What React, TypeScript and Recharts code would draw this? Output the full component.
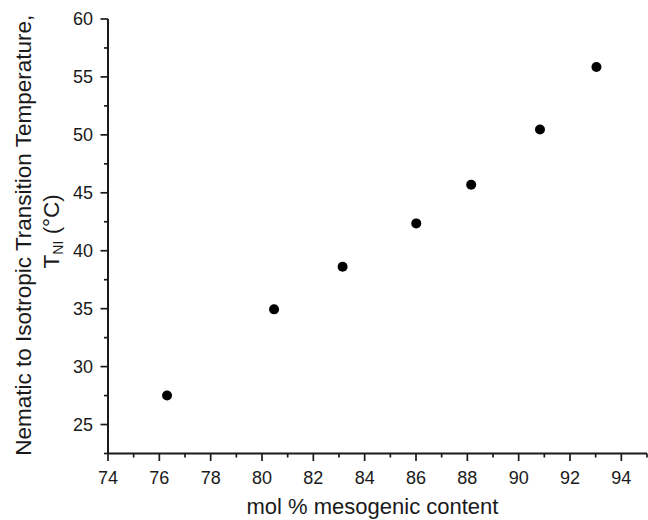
import { ScatterChart, Scatter, XAxis, YAxis, Label } from 'recharts';

// mesogen content (mol %) vs. nematic-isotropic transition temperature
const molPercent = [76.3, 80.47, 83.14, 86.01, 88.15, 90.83, 93.03];
const tniCelsius = [27.5, 34.94, 38.62, 42.36, 45.7, 50.47, 55.86];

const xTicks = [74, 75, 76, 77, 78, 79, 80, 81, 82, 83, 84, 85, 86, 87, 88, 89, 90, 91, 92, 93, 94, 95];
const xLabels = [74, 76, 78, 80, 82, 84, 86, 88, 90, 92, 94];
const yTicks = [22.5, 25, 27.5, 30, 32.5, 35, 37.5, 40, 42.5, 45, 47.5, 50, 52.5, 55, 57.5, 60];
const yLabels = [25, 30, 35, 40, 45, 50, 55, 60];

const points = molPercent.map((x, i) => ({ x, y: tniCelsius[i] }));

const FONT = '"Liberation Sans", Arial, sans-serif';
const INK = '#1a1a1a';

const XTick = (props: any) => {
  const { x, y, payload } = props;
  const major = xLabels.includes(payload.value);
  return (
    <g>
      <line x1={x} x2={x} y1={y} y2={y + (major ? 7.5 : 4)} stroke={INK} strokeWidth={1.7} />
      {major && (
        <text x={x} y={y + 30} textAnchor="middle" fontSize={18} fontFamily={FONT} fill={INK}>
          {payload.value}
        </text>
      )}
    </g>
  );
};

const YTick = (props: any) => {
  const { x, y, payload } = props;
  const major = yLabels.includes(payload.value);
  return (
    <g>
      <line x1={x} x2={x - (major ? 7.5 : 4)} y1={y} y2={y} stroke={INK} strokeWidth={1.7} />
      {major && (
        <text x={x - 15} y={y} dy="0.36em" textAnchor="end" fontSize={18} fontFamily={FONT} fill={INK}>
          {payload.value}
        </text>
      )}
    </g>
  );
};

const YTitle = (props: any) => {
  const vb = props.viewBox;
  const cy = vb.y + vb.height / 2;
  return (
    <g fontFamily={FONT} fontSize={22.5} fill={INK}>
      <text x={31} y={cy - 1} transform={`rotate(-90, 31, ${cy - 1})`} textAnchor="middle">
        Nematic to Isotropic Transition Temperature,
      </text>
      <text x={59} y={cy - 5} transform={`rotate(-90, 59, ${cy - 5})`} textAnchor="middle">
        T
        <tspan fontSize={14} dy={4}>NI</tspan>
        <tspan dy={-4}> (°C)</tspan>
      </text>
    </g>
  );
};

const Dot = (props: any) => <circle cx={props.cx} cy={props.cy} r={5} fill="#000" />;

export default function App() {
  return (
    <div style={{ position: 'absolute', left: 0, top: 0, width: 648, height: 520, background: '#fff' }}>
      <ScatterChart width={648} height={520} margin={{ top: 19, right: 1, bottom: 0, left: 0 }}>
        <XAxis
          type="number"
          dataKey="x"
          domain={[74, 95]}
          ticks={xTicks}
          interval={0}
          tickSize={0}
          tickMargin={0}
          tickLine={false}
          tick={XTick}
          height={66.5}
          axisLine={{ stroke: INK, strokeWidth: 2 }}
        >
          <Label
            value="mol % mesogenic content"
            position="insideBottom"
            offset={6}
            style={{ fontSize: 22, fontFamily: FONT, fill: INK }}
            dx={-5}
          />
        </XAxis>
        <YAxis
          type="number"
          dataKey="y"
          domain={[22.5, 60]}
          ticks={yTicks}
          interval={0}
          tickSize={0}
          tickMargin={0}
          tickLine={false}
          tick={YTick}
          width={108}
          axisLine={{ stroke: INK, strokeWidth: 2 }}
        >
          <Label content={YTitle} />
        </YAxis>
        <Scatter data={points} shape={Dot} isAnimationActive={false} />
      </ScatterChart>
    </div>
  );
}
